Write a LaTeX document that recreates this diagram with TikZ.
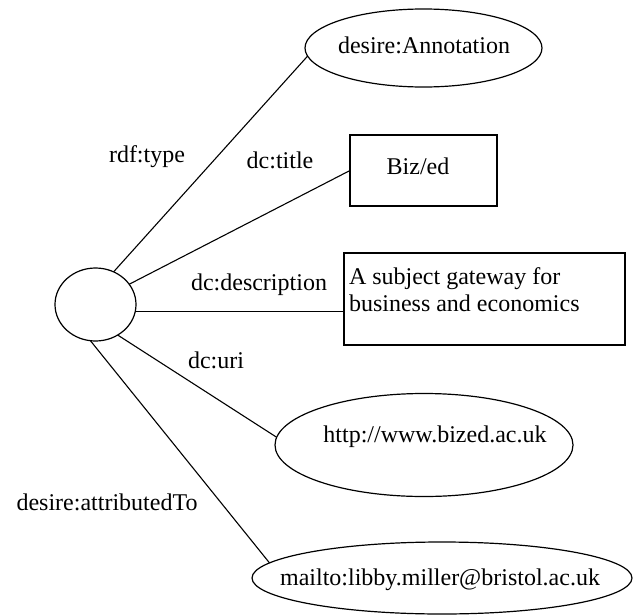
\documentclass[tikz,border=0pt]{standalone}
\usepackage{fontspec}
\setmainfont{Liberation Serif}
\usetikzlibrary{shapes.geometric}
\begin{document}
\begin{tikzpicture}[x=1pt,y=-1pt,
  every node/.style={inner sep=0pt, outer sep=0pt, font=\fontsize{24}{27}\selectfont},
  shp/.style={draw=black, line width=1.2pt},
  oval/.style={shp, ellipse},
  box/.style={shp, rectangle},
  edge/.style={draw=black, line width=1.1pt},
  txt/.style={text height=16pt, text depth=5pt}]
\useasboundingbox (0,0) rectangle (635,616);
\fill[white] (0,0) rectangle (635,616);
% shapes
\node[oval, minimum width=81, minimum height=73] (s) at (95.5,304.5) {};
\node[oval, minimum width=237, minimum height=78] (ann) at (423.5,48) {};
\node[box, minimum width=147, minimum height=71] (biz) at (423.5,170.5) {};
\node[box, minimum width=281, minimum height=92] (desc) at (484.5,299) {};
\node[oval, minimum width=298, minimum height=103] (uri) at (424,445) {};
\node[oval, minimum width=380, minimum height=72] (mail) at (442,578) {};
% texts in shapes
\node[txt] (annt) at (424,48) {desire:Annotation};
\node[txt] (bizt) at (418,169) {Biz/ed};
\node[anchor=north west, align=left] (desct) at (349,268) {A subject gateway for\\business and economics};
\node[txt] (urit) at (435,437) {http://www.bized.ac.uk};
\node[txt] (mailt) at (440,580) {mailto:libby.miller@bristol.ac.uk};
% edge labels
\node[txt] (l1) at (147,157) {rdf:type};
\node[txt] (l2) at (280,163) {dc:title};
\node[txt] (l3) at (259,285) {dc:description};
\node[txt] (l4) at (216,363) {dc:uri};
\node[txt] (l5) at (107,505) {desire:attributedTo};
% connectors
\draw[edge] (s.61.9) -- (ann.184);
\draw[edge] (s.31.2) -- (biz.west);
\draw[edge] (s.-10.5) -- (s.-10.5 -| desc.west);
\draw[edge] (s.-54.5) -- (uri.177.3);
\draw[edge] (s.-98.6) -- (mail.175);
\end{tikzpicture}
\end{document}
